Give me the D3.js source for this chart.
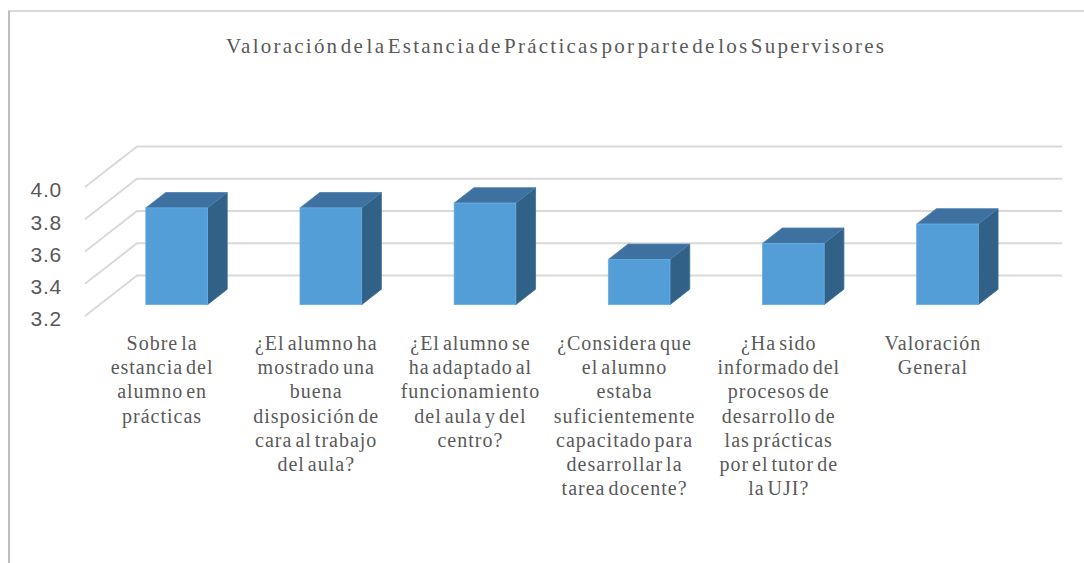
<!DOCTYPE html>
<html>
<head>
<meta charset="utf-8">
<script src="https://cdn.jsdelivr.net/npm/d3@7"></script>
<style>
  body { margin: 0; background: #fff; }
  svg { display: block; }
</style>
</head>
<body>
<div id="chart"></div>
<script>
// Chart data
const categories = [
    "Sobre la estancia del alumno en prácticas",
    "¿El alumno ha mostrado una buena disposición de cara al trabajo del aula?",
    "¿El alumno se ha adaptado al funcionamiento del aula y del centro?",
    "¿Considera que el alumno estaba suficientemente capacitado para desarrollar la tarea docente?",
    "¿Ha sido informado del procesos de desarrollo de las prácticas por el tutor de la UJI?",
    "Valoración General"
];
const labelLines = [
    ["Sobre la", "estancia del", "alumno en", "prácticas"],
    ["¿El alumno ha", "mostrado una", "buena", "disposición de", "cara al trabajo", "del aula?"],
    ["¿El alumno se", "ha adaptado al", "funcionamiento", "del aula y del", "centro?"],
    ["¿Considera que", "el alumno", "estaba", "suficientemente", "capacitado para", "desarrollar la", "tarea docente?"],
    ["¿Ha sido", "informado del", "procesos de", "desarrollo de", "las prácticas", "por el tutor de", "la UJI?"],
    ["Valoración", "General"]
];
const values = [3.80, 3.80, 3.83, 3.48, 3.58, 3.70];
const yTicks = [3.2, 3.4, 3.6, 3.8, 4.0];
const title = "Valoración de la Estancia de Prácticas por parte de los Supervisores";

const width = 1084;
const height = 563;

const svg = d3.select("#chart")
    .append("svg")
    .attr("width", width)
    .attr("height", height);

// chart border (right and bottom run off the picture)
svg.append("rect")
    .attr("x", 9).attr("y", 11)
    .attr("width", 1200).attr("height", 700)
    .attr("fill", "#fff")
    .attr("stroke", "#d9d9d9")
    .attr("stroke-width", 2);
svg.append("line")
    .attr("x1", 9).attr("x2", 9).attr("y1", 11).attr("y2", height)
    .attr("stroke", "#bfbfbf").attr("stroke-width", 2);

// Title
svg.append("text")
    .attr("x", 226).attr("y", 53)
    .attr("textLength", 658)
    .attr("lengthAdjust", "spacing")
    .attr("word-spacing", -6)
    .attr("font-family", "'Liberation Serif', 'Times New Roman', serif")
    .attr("font-size", 21)
    .attr("fill", "#595959")
    .text(title);

// Scales (front plane of the 3D box)
const xScale = d3.scaleBand()
    .domain(categories)
    .range([85, 1010]);

const yScale = d3.scaleLinear()
    .domain([3.2, 4.0])
    .range([316, 187]);

// depth: 0 = front, 1 = back wall
const depthX = d3.scaleLinear().domain([0, 1]).range([0, 52]);
const depthY = d3.scaleLinear().domain([0, 1]).range([0, -40.5]);

const backRight = xScale.range()[1] + depthX(1);

// Gridlines: side wall diagonals + back wall horizontals
const grid = svg.append("g").attr("stroke", "#d9d9d9").attr("stroke-width", 2).attr("fill", "none");
yTicks.forEach(t => {
    const y0 = yScale(t);
    grid.append("path")
        .attr("d", `M${xScale.range()[0]},${y0} L${xScale.range()[0] + depthX(1)},${y0 + depthY(1)} L${backRight},${y0 + depthY(1)}`);
});

// Y tick labels
svg.append("g")
    .selectAll("text")
    .data(yTicks)
    .enter()
    .append("text")
    .attr("x", 62)
    .attr("y", d => yScale(d) + 3)
    .attr("dy", "0.35em")
    .attr("text-anchor", "end")
    .attr("font-family", "'Liberation Sans', Arial, sans-serif")
    .attr("font-size", 21)
    .attr("letter-spacing", 0.8)
    .attr("fill", "#595959")
    .text(d => d3.format(".1f")(d));

// 3D bars
const d1 = 0.28, d2 = 0.66;
const barW = xScale.bandwidth() * 0.4;
const bars = svg.append("g");

categories.forEach((c, i) => {
    const x0 = xScale(c) + xScale.bandwidth() / 2 - barW / 2 + depthX(d1);
    const x1 = x0 + barW;
    const yb = yScale(3.2) + depthY(d1);
    const yt = yScale(values[i]) + depthY(d1);
    const ox = depthX(d2) - depthX(d1);
    const oy = depthY(d2) - depthY(d1);

    // side face
    bars.append("path")
        .attr("d", `M${x1},${yb} L${x1 + ox},${yb + oy} L${x1 + ox},${yt + oy} L${x1},${yt} Z`)
        .attr("fill", "#316186")
        .attr("stroke", "#3d6f99").attr("stroke-width", 0.8);
    // top face
    bars.append("path")
        .attr("d", `M${x0},${yt} L${x0 + ox},${yt + oy} L${x1 + ox},${yt + oy} L${x1},${yt} Z`)
        .attr("fill", "#3f71a0")
        .attr("stroke", "#4d80ae").attr("stroke-width", 0.8);
    // front face
    bars.append("rect")
        .attr("x", x0).attr("y", yt)
        .attr("width", barW).attr("height", yb - yt)
        .attr("fill", "#539ed6")
        .attr("stroke", "#6aaee2").attr("stroke-width", 0.8);
});

// Category labels
const labels = svg.append("g")
    .attr("font-family", "'Liberation Serif', 'Times New Roman', serif")
    .attr("font-size", 20)
    .attr("letter-spacing", 1)
    .attr("word-spacing", -3)
    .attr("fill", "#595959")
    .attr("text-anchor", "middle");

categories.forEach((c, i) => {
    const t = labels.append("text")
        .attr("x", xScale(c) + xScale.bandwidth() / 2)
        .attr("y", 350);
    labelLines[i].forEach((line, j) => {
        t.append("tspan")
            .attr("x", xScale(c) + xScale.bandwidth() / 2)
            .attr("y", 350 + j * 24.2)
            .text(line);
    });
});
</script>
</body>
</html>
